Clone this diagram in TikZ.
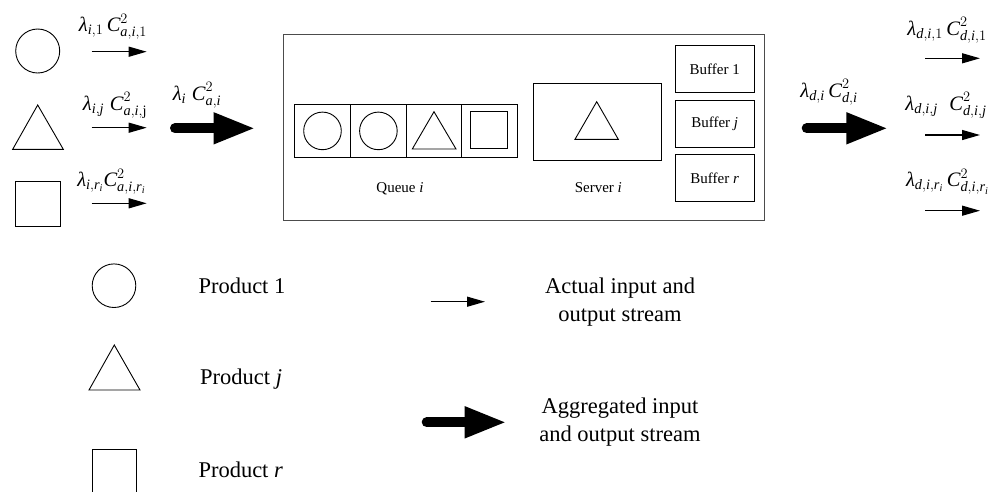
\documentclass[tikz,border=0pt]{standalone}
\usepackage{amsmath}
\usepackage{fontspec}
\setmainfont{Liberation Serif}
\usetikzlibrary{arrows.meta}
\newcommand{\tx}[1]{\textit{#1}}
\tikzset{
  shp/.style={draw=black, line width=0.9pt, inner sep=0pt},
  circ/.style={shp, circle, minimum size=#1},
  box/.style={shp, rectangle},
  thinarrow/.style={line width=1.3pt, -{Triangle[length=18pt,width=10pt]}},
  thickarrow/.style={line width=10pt, line cap=round, -{Triangle[length=42pt,width=29pt]}},
  mlabel/.style={inner sep=0pt, anchor=base, font=\fontsize{20.5}{24}\selectfont},
  boxtext/.style={inner sep=0pt, font=\fontsize{15}{18}\selectfont},
  legtext/.style={inner sep=0pt, font=\fontsize{22.5}{27.7}\selectfont, align=center},
}
\begin{document}
\begin{tikzpicture}[x=1pt,y=-1pt]
\useasboundingbox (0,0) rectangle (997,491);

% left products
\node[circ=44pt] (lc) at (37.7,51) {};
\draw[line width=0.9pt, line join=miter] (37.7,105) -- (63.3,149.3) -- (12.7,149.3) -- cycle;
\node[box, minimum width=45pt, minimum height=44.3pt] (ls) at (37.5,203.9) {};

% thin input arrows
\coordinate (a1s) at (91.7,51.7); \coordinate (a1e) at (146.7,51.7);
\coordinate (a2s) at (91.7,127.7); \coordinate (a2e) at (146.7,127.7);
\coordinate (a3s) at (91.7,203.3); \coordinate (a3e) at (146.7,203.3);
\draw[thinarrow] (a1s) -- (a1e);
\draw[thinarrow] (a2s) -- (a2e);
\draw[thinarrow] (a3s) -- (a3e);
\node[mlabel] (l1) at (113,31.7) {$\tx{λ}_{\tx{i},1}\,\tx{C}^{2}_{\tx{a},\tx{i},1}$};
\node[mlabel] (l2) at (115,110) {$\tx{λ}_{\tx{i},\tx{j}}\;\tx{C}^{2}_{\tx{a},\tx{i},\text{j}}$};
\node[mlabel] (l3) at (111.5,186.7) {$\tx{λ}_{\tx{i},\tx{r}_{\tx{i}}}\tx{C}^{2}_{\tx{a},\tx{i},\tx{r}_{\tx{i}}}$};

% aggregated input arrow
\coordinate (tis) at (175,128.3); \coordinate (tie) at (255.5,128.3);
\draw[thickarrow] (tis) -- (tie);
\node[mlabel] (li) at (197,100) {$\tx{λ}_{\tx{i}}\;\tx{C}^{2}_{\tx{a},\tx{i}}$};

% main station box
\node[shp, draw=black!70, rectangle, minimum width=481pt, minimum height=186.7pt] (station) at (523.8,127.35) {};

% queue
\foreach \n/\x in {q1/322.5, q2/378.4, q3/433.9, q4/489.5}
  \node[box, minimum width=55.7pt, minimum height=53.7pt] (\n) at (\x,130.9) {};
\node[circ=37.6pt] (qc1) at (q1) {};
\node[circ=37.6pt] (qc2) at (q2) {};
\draw[line width=0.9pt] (434,111.7) -- (456,149) -- (412.3,149) -- cycle;
\node[box, minimum width=37.7pt, minimum height=37pt] (qs) at (488.9,129.8) {};
\node[boxtext, anchor=base] (ql) at (400,192.5) {Queue \textit{i}};

% server
\node[box, minimum width=128.4pt, minimum height=76.7pt] (server) at (597.5,121.7) {};
\draw[line width=0.9pt] (596.7,101.7) -- (618.3,139.3) -- (575,139.3) -- cycle;
\node[boxtext, anchor=base] (sl) at (598.3,192.5) {Server \textit{i}};

% buffers
\node[box, minimum width=79.3pt, minimum height=47pt, boxtext] (b1) at (714.7,69.2) {Buffer 1};
\node[box, minimum width=79.3pt, minimum height=47.3pt, boxtext] (bj) at (714.7,123.7) {Buffer \textit{j}};
\node[box, minimum width=79.3pt, minimum height=47.4pt, boxtext] (br) at (714.7,178) {Buffer \textit{r}};

% aggregated output arrow
\coordinate (tos) at (806.7,128.3); \coordinate (toe) at (888.3,128.3);
\draw[thickarrow] (tos) -- (toe);
\node[mlabel] (lo) at (829,97) {$\tx{λ}_{\tx{d},\tx{i}}\,\tx{C}^{2}_{\tx{d},\tx{i}}$};

% thin output arrows
\coordinate (o1s) at (925,58.3); \coordinate (o1e) at (980,58.3);
\coordinate (o2s) at (925,135); \coordinate (o2e) at (980,135);
\coordinate (o3s) at (925,210.7); \coordinate (o3e) at (980,210.7);
\draw[thinarrow] (o1s) -- (o1e);
\draw[thinarrow] (o2s) -- (o2e);
\draw[thinarrow] (o3s) -- (o3e);
\node[mlabel] (r1) at (947,35) {$\tx{λ}_{\tx{d},\tx{i},1}\,\tx{C}^{2}_{\tx{d},\tx{i},1}$};
\node[mlabel] (r2) at (946,110) {$\tx{λ}_{\tx{d},\tx{i},\tx{j}}\;\;\tx{C}^{2}_{\tx{d},\tx{i},\tx{j}}$};
\node[mlabel] (r3) at (947.5,186.7) {$\tx{λ}_{\tx{d},\tx{i},\tx{r}_{\tx{i}}}\,\tx{C}^{2}_{\tx{d},\tx{i},\tx{r}_{\tx{i}}}$};

% legend: products
\node[circ=43.6pt] (pc) at (114,285.7) {};
\draw[line width=0.9pt] (114.3,345) -- (140,390) -- (89,390) -- cycle;
\draw[line width=0.9pt] (92.3,492) -- (92.3,449.3) -- (136,449.3) -- (136,492);
\node[legtext, anchor=base west] (p1) at (198.3,293.3) {Product 1};
\node[legtext, anchor=base west] (pj) at (200,384) {Product \textit{j}};
\node[legtext, anchor=base west] (pr) at (198.3,477.3) {Product \textit{r}};

% legend: arrows
\coordinate (las) at (430.7,301.7); \coordinate (lae) at (485,301.7);
\draw[thinarrow] (las) -- (lae);
\node[legtext] (lat) at (620,302) {Actual input and\\output stream};
\coordinate (lbs) at (426.7,422.3); \coordinate (lbe) at (506.7,422.3);
\draw[thickarrow] (lbs) -- (lbe);
\node[legtext] (lbt) at (620,422) {Aggregated input\\and output stream};
\end{tikzpicture}
\end{document}
